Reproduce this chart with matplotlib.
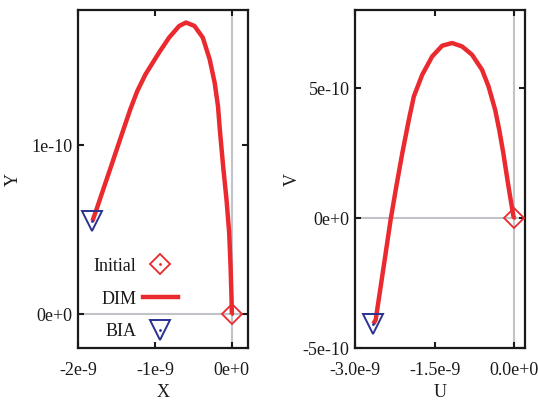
import matplotlib.pyplot as plt
from matplotlib.lines import Line2D

plt.rcParams['font.family'] = ['Liberation Serif', 'DejaVu Serif']
plt.rcParams['font.size'] = 13

# left panel trajectory (X, Y), from BIA end to initial point
x_left = [-1.812e-9, -1.759e-9, -1.671e-9, -1.583e-9, -1.496e-9, -1.408e-9, -1.320e-9,
          -1.230e-9, -1.122e-9, -0.947e-9, -0.816e-9, -0.684e-9, -0.596e-9, -0.487e-9,
          -0.378e-9, -0.289e-9, -0.224e-9, -0.180e-9, -0.158e-9, -0.114e-9, -0.070e-9,
          -0.035e-9, -0.017e-9, -0.004e-9, 0.0]
y_left = [0.552e-10, 0.621e-10, 0.740e-10, 0.858e-10, 0.976e-10, 1.095e-10, 1.213e-10,
          1.320e-10, 1.420e-10, 1.548e-10, 1.637e-10, 1.706e-10, 1.726e-10, 1.706e-10,
          1.637e-10, 1.509e-10, 1.371e-10, 1.230e-10, 1.100e-10, 0.878e-10, 0.680e-10,
          0.483e-10, 0.286e-10, 0.089e-10, 0.0]

# right panel trajectory (U, V)
u_right = [-2.655e-9, -2.612e-9, -2.518e-9, -2.424e-9, -2.331e-9, -2.224e-9, -2.111e-9,
           -1.988e-9, -1.894e-9, -1.736e-9, -1.549e-9, -1.361e-9, -1.174e-9, -0.986e-9,
           -0.799e-9, -0.611e-9, -0.488e-9, -0.362e-9, -0.287e-9, -0.210e-9, -0.113e-9,
           -0.019e-9, 0.0]
v_right = [-4.065e-10, -3.912e-10, -2.631e-10, -1.346e-10, -0.065e-10, 1.215e-10, 2.500e-10,
           3.781e-10, 4.677e-10, 5.512e-10, 6.215e-10, 6.627e-10, 6.731e-10, 6.600e-10,
           6.281e-10, 5.704e-10, 5.062e-10, 4.150e-10, 3.396e-10, 2.500e-10, 1.215e-10,
           0.062e-10, 0.0]

red = '#ea2a2f'
blue = '#2b3191'
grey = '#c0c3c8'
ink = '#1a1a1a'

fig = plt.figure(figsize=(5.38, 4.01), dpi=100)
ax1 = fig.add_axes([0.145, 0.132, 0.316, 0.843])
ax2 = fig.add_axes([0.660, 0.132, 0.316, 0.843])


def draw(ax, xs, ys):
    ax.axhline(0, color=grey, lw=1.5, zorder=1)
    ax.axvline(0, color=grey, lw=1.5, zorder=1)
    ax.plot(xs, ys, color=red, lw=3.2, solid_capstyle='butt', solid_joinstyle='round', zorder=3)
    # initial point
    ax.plot(xs[-1], ys[-1], marker='D', ms=10, mfc='none', mec=red, mew=1.3, zorder=4)
    ax.plot(xs[-1], ys[-1], marker='.', ms=2, color=red, zorder=5)
    # BIA point
    ax.plot(xs[0], ys[0], marker='v', ms=15, mfc='none', mec=blue, mew=1.4, zorder=4)
    ax.plot(xs[0], ys[0], marker='.', ms=2, color=blue, zorder=5)
    for s in ax.spines.values():
        s.set_linewidth(1.6)
        s.set_color(ink)
    ax.tick_params(direction='in', top=True, right=True, width=1.5, length=4, colors=ink)
    ax.tick_params(axis='x', pad=10)
    ax.tick_params(axis='y', pad=4)


draw(ax1, x_left, y_left)
ax1.set_xlim(-2.0e-9, 0.21e-9)
ax1.set_ylim(-0.2e-10, 1.8e-10)
ax1.set_xticks([-2e-9, -1e-9, 0])
ax1.set_xticklabels(['-2e-9', '-1e-9', '0e+0'])
ax1.set_yticks([0, 1e-10])
ax1.set_yticklabels(['0e+0', '1e-10'])
ax1.set_xlabel('X', color=ink)
ax1.set_ylabel('Y', color=ink)
ax1.xaxis.set_label_coords(0.5, -0.105)
ax1.yaxis.set_label_coords(-0.33, 0.5)

draw(ax2, u_right, v_right)
ax2.set_xlim(-3.0e-9, 0.2e-9)
ax2.set_ylim(-5e-10, 8e-10)
ax2.set_xticks([-3e-9, -1.5e-9, 0])
ax2.set_xticklabels(['-3.0e-9', '-1.5e-9', '0.0e+0'])
ax2.set_yticks([-5e-10, 0, 5e-10])
ax2.set_yticklabels(['-5e-10', '0e+0', '5e-10'])
ax2.set_xlabel('U', color=ink)
ax2.set_ylabel('V', color=ink)
ax2.xaxis.set_label_coords(0.5, -0.105)
ax2.yaxis.set_label_coords(-0.32, 0.5)

h_init = (Line2D([], [], marker='D', ms=10, mfc='none', mec=red, mew=1.3, ls='none'),
          Line2D([], [], marker='.', ms=2, color=red, ls='none'))
h_dim = Line2D([], [], color=red, lw=3.2)
h_bia = (Line2D([], [], marker='v', ms=15, mfc='none', mec=blue, mew=1.4, ls='none'),
         Line2D([], [], marker='.', ms=2, color=blue, ls='none'))
leg = ax1.legend([h_init, h_dim, h_bia], ['Initial', 'DIM', 'BIA'], markerfirst=False,
                 frameon=False, loc='center', bbox_to_anchor=(0.34, 0.145),
                 labelspacing=0.88, handlelength=1.95, handletextpad=0.35, fontsize=13)
for t in leg.get_texts():
    t.set_color(ink)

fig.savefig('out.png', dpi=100)
